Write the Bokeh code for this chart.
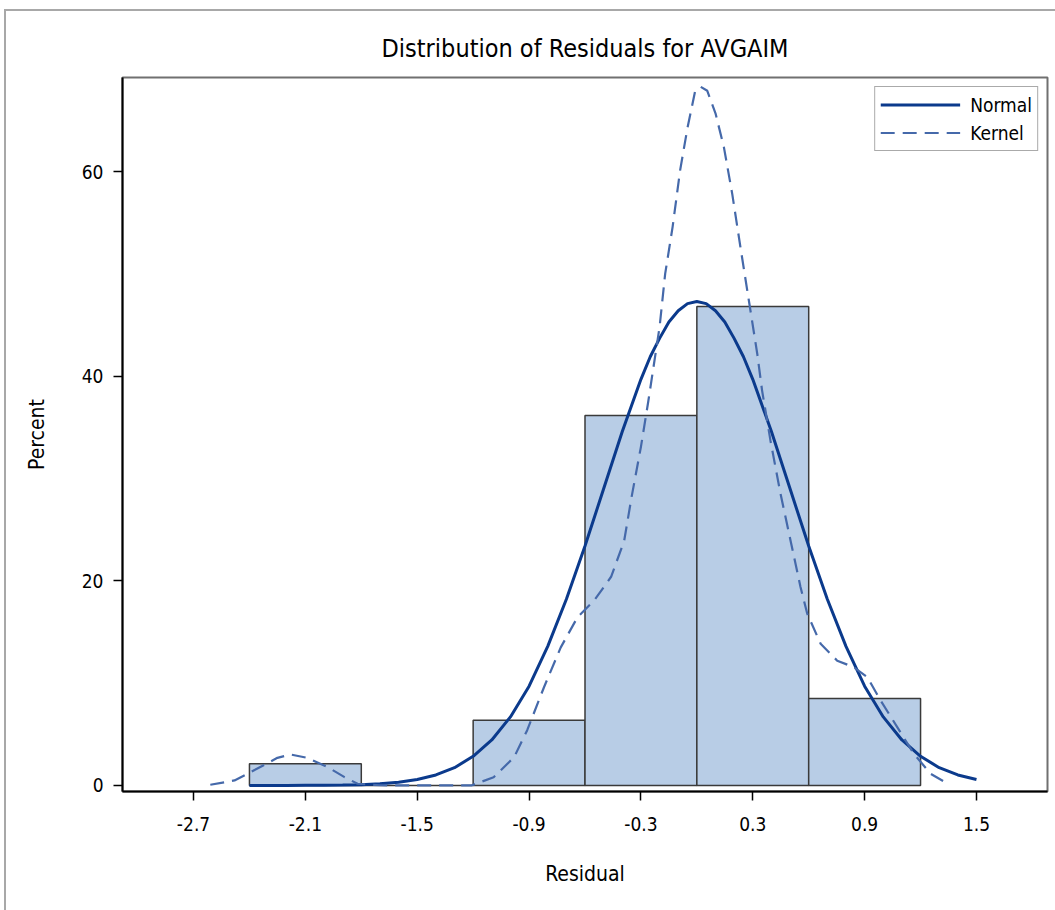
from bokeh.plotting import figure
from bokeh.models import Range1d, FixedTicker, Legend, LegendItem, PrintfTickFormatter
from bokeh.embed import file_html
from bokeh.resources import INLINE

# ---- data ----
bin_left = [-2.4, -1.8, -1.2, -0.6, 0.0, 0.6]
bin_right = [-1.8, -1.2, -0.6, 0.0, 0.6, 1.2]
percent = [2.13, 0.0, 6.38, 36.17, 46.81, 8.51]

normal_x = [-2.4, -2.3, -2.2, -2.1, -2.0, -1.9, -1.8, -1.7, -1.6, -1.5, -1.4, -1.3,
            -1.2, -1.1, -1.0, -0.9, -0.8, -0.7, -0.6, -0.5, -0.4, -0.3, -0.25, -0.2,
            -0.15, -0.1, -0.05, 0.0, 0.05, 0.1, 0.15, 0.2, 0.25, 0.3, 0.4, 0.5, 0.6,
            0.7, 0.8, 0.9, 1.0, 1.1, 1.2, 1.3, 1.4, 1.5]
normal_y = [0.0, 0.0, 0.0, 0.01, 0.02, 0.04, 0.08, 0.17, 0.32, 0.59, 1.03, 1.74,
            2.85, 4.45, 6.7, 9.7, 13.6, 18.2, 23.4, 29.0, 34.6, 39.7, 41.9, 43.7,
            45.3, 46.4, 47.1, 47.3, 47.1, 46.4, 45.3, 43.7, 41.9, 39.7, 34.6, 29.0, 23.4,
            18.2, 13.6, 9.7, 6.7, 4.45, 2.85, 1.74, 1.03, 0.59]

kernel_x = [-2.61, -2.48, -2.41, -2.36, -2.25, -2.18, -2.09, -1.98, -1.89, -1.82,
            -1.70, -1.50, -1.21, -1.09, -0.98, -0.91, -0.82, -0.73, -0.64, -0.55,
            -0.46, -0.39, -0.35, -0.30, -0.26, -0.20, -0.17, -0.13, -0.09, -0.05,
            -0.01, 0.02, 0.056, 0.10, 0.145, 0.19, 0.234, 0.279, 0.324, 0.35, 0.395,
            0.449, 0.503, 0.556, 0.592, 0.664, 0.753, 0.842, 0.914, 0.986, 1.075,
            1.164, 1.254, 1.352]
kernel_y = [0.07, 0.49, 1.14, 1.63, 2.70, 3.03, 2.70, 1.79, 0.81, 0.17,
            0.02, 0.0, 0.0, 0.8, 2.77, 5.4, 9.6, 13.5, 16.45, 18.1,
            20.4, 23.9, 28.2, 33.1, 37.6, 44.8, 50.0, 54.6, 60.1, 64.3,
            67.8, 68.3, 67.9, 65.7, 62.4, 57.8, 52.6, 47.4, 42.2, 38.6, 33.7,
            28.5, 23.9, 19.4, 16.8, 13.85, 12.2, 11.56, 10.6, 8.3, 5.7,
            3.1, 1.14, 0.1]

x_ticks = [-2.7, -2.1, -1.5, -0.9, -0.3, 0.3, 0.9, 1.5]
y_ticks = [0, 20, 40, 60]

title_text = "Distribution of Residuals for AVGAIM"
x_label = "Residual"
y_label = "Percent"

FONT = "DejaVu Sans Condensed"

p = figure(width=1055, height=910, output_backend="svg", toolbar_location=None,
           x_range=Range1d(-3.081, 1.881), y_range=Range1d(-0.59, 69.2),
           min_border_left=122, min_border_right=8, min_border_top=77, min_border_bottom=119,
           frame_width=925, frame_height=714)

# transparent canvas border so a thin grey panel edge (left/top) can show through
p.border_fill_color = None
p.styles = {
    "background": ("linear-gradient(#a8a8a8, #a8a8a8) 4px 9px / 2px 1000px no-repeat, "
                   "linear-gradient(#a8a8a8, #a8a8a8) 4px 9px / 1100px 2px no-repeat, "
                   "#ffffff"),
}

p.title.text = title_text
p.title.align = "center"
p.title.text_font = FONT
p.title.text_font_size = "25px"
p.title.text_font_style = "normal"
p.title.text_color = "#000000"
p.title.standoff = 30

p.quad(left=bin_left, right=bin_right, top=percent, bottom=0,
       fill_color="#B8CDE6", line_color="#3a3a3a", line_width=1.5)

r_norm = p.line(normal_x, normal_y, line_color="#0B3A8C", line_width=3)
r_kern = p.line(kernel_x, kernel_y, line_color="#4569AA", line_width=2.2, line_dash="14 8")

legend = Legend(items=[LegendItem(label="Normal", renderers=[r_norm]),
                       LegendItem(label="Kernel", renderers=[r_kern])],
                location="top_right", margin=9, padding=5, spacing=3,
                glyph_width=80, glyph_height=25, label_height=25, label_standoff=10,
                label_text_font=FONT, label_text_font_size="19px",
                label_text_color="#000000",
                border_line_color="#555555", border_line_width=1.5,
                background_fill_color="white", background_fill_alpha=1)
p.add_layout(legend)

p.xgrid.visible = False
p.ygrid.visible = False

for ax in (p.xaxis[0], p.yaxis[0]):
    ax.axis_line_color = "#000000"
    ax.axis_line_width = 2
    ax.major_tick_line_color = "#000000"
    ax.major_tick_line_width = 1.5
    ax.major_tick_out = 9
    ax.major_tick_in = 0
    ax.minor_tick_line_color = None
    ax.major_label_text_font = FONT
    ax.major_label_text_font_size = "19px"
    ax.major_label_text_color = "#000000"
    ax.axis_label_text_font = FONT
    ax.axis_label_text_font_size = "21px"
    ax.axis_label_text_font_style = "normal"
    ax.axis_label_text_color = "#000000"

p.xaxis[0].ticker = FixedTicker(ticks=x_ticks)
p.xaxis[0].formatter = PrintfTickFormatter(format="%.1f")
p.xaxis[0].axis_label = x_label
p.xaxis[0].major_label_standoff = 16
p.xaxis[0].axis_label_standoff = 28

p.yaxis[0].ticker = FixedTicker(ticks=y_ticks)
p.yaxis[0].formatter = PrintfTickFormatter(format="%d")
p.yaxis[0].axis_label = y_label
p.yaxis[0].major_label_standoff = 10
p.yaxis[0].axis_label_standoff = 30

p.outline_line_color = "#707070"
p.outline_line_width = 2

open("out.html", "w").write(file_html(p, INLINE))
